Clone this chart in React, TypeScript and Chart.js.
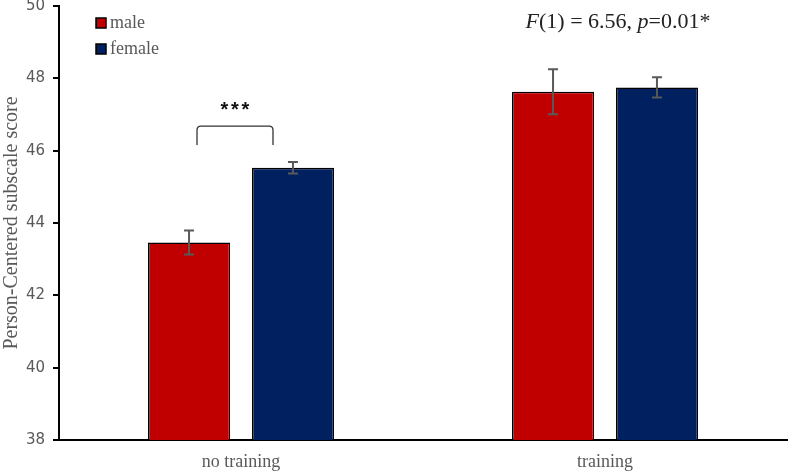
import React, { useEffect, useRef } from "react";
import { Chart, registerables } from "chart.js";

Chart.register(...registerables);

const categories = ["no training", "training"];
const seriesNames = ["male", "female"];
const maleValues = [43.46, 47.63];
const femaleValues = [45.53, 47.75];
const maleErrors = [0.33, 0.62];
const femaleErrors = [0.16, 0.28];
const yTicks = [38, 40, 42, 44, 46, 48, 50];
const yTitle = "Person-Centered subscale score";
const sigStars = "***";
const bracketTop = 46.68;
const bracketBottom = 46.16;
const starsValue = 47.22;
const statValue = 49.56;

const COLORS = ["#C00000", "#002060"];
const GRAY = "#595959";

const overlayPlugin = {
  id: "overlay",
  afterDatasetsDraw(chart: any) {
    const ctx = chart.ctx;
    const x = chart.scales.x;
    const y = chart.scales.y;
    ctx.save();
    // error bars
    const errs = [maleErrors, femaleErrors];
    const vals = [maleValues, femaleValues];
    for (let d = 0; d < 2; d++) {
      const meta = chart.getDatasetMeta(d);
      meta.data.forEach((bar: any, i: number) => {
        const cx = bar.x;
        const top = y.getPixelForValue(vals[d][i] + errs[d][i]);
        const bot = y.getPixelForValue(vals[d][i] - errs[d][i]);
        ctx.strokeStyle = GRAY;
        ctx.lineWidth = 2;
        ctx.beginPath();
        ctx.moveTo(cx, top);
        ctx.lineTo(cx, bot);
        ctx.moveTo(cx - 5, top);
        ctx.lineTo(cx + 5, top);
        ctx.moveTo(cx - 5, bot);
        ctx.lineTo(cx + 5, bot);
        ctx.stroke();
      });
    }
    // bracket
    const c0 = x.getPixelForValue(0);
    const bl = c0 - 44;
    const br = c0 + 32;
    const bt = y.getPixelForValue(bracketTop);
    const bb = y.getPixelForValue(bracketBottom);
    ctx.strokeStyle = "#333";
    ctx.lineWidth = 1.3;
    ctx.beginPath();
    ctx.moveTo(bl, bb);
    ctx.lineTo(bl, bt + 4);
    ctx.quadraticCurveTo(bl, bt, bl + 4, bt);
    ctx.lineTo(br - 4, bt);
    ctx.quadraticCurveTo(br, bt, br, bt + 4);
    ctx.lineTo(br, bb);
    ctx.stroke();
    // stars
    const sy = y.getPixelForValue(starsValue);
    ctx.fillStyle = "#111";
    ctx.font = "bold 20px 'Liberation Sans'";
    ctx.textAlign = "center";
    ctx.textBaseline = "middle";
    const chars = sigStars.split("");
    chars.forEach((ch, k) => {
      ctx.fillText(ch, c0 - 6 + (k - (chars.length - 1) / 2) * 10.5, sy + 4);
    });
    // stat annotation
    const c1 = x.getPixelForValue(1);
    const parts: [string, boolean][] = [
      ["F", true],
      ["(1) = 6.56, ", false],
      ["p", true],
      ["=0.01*", false],
    ];
    const fontFor = (it: boolean) => (it ? "italic 22px 'Liberation Serif'" : "22px 'Liberation Serif'");
    let total = 0;
    parts.forEach(([t, it]) => {
      ctx.font = fontFor(it);
      total += ctx.measureText(t).width;
    });
    let px = c1 + 13 - total / 2;
    const ty = y.getPixelForValue(statValue);
    ctx.textAlign = "left";
    ctx.textBaseline = "middle";
    ctx.fillStyle = "#222";
    parts.forEach(([t, it]) => {
      ctx.font = fontFor(it);
      ctx.fillText(t, px, ty);
      px += ctx.measureText(t).width;
    });
    // legend
    seriesNames.forEach((name, k) => {
      const ly = 18 + k * 26;
      ctx.fillStyle = COLORS[k];
      ctx.fillRect(96, ly, 10, 10);
      ctx.strokeStyle = "#000";
      ctx.lineWidth = 1.5;
      ctx.strokeRect(96, ly, 10, 10);
      ctx.fillStyle = GRAY;
      ctx.font = "18px 'Liberation Serif'";
      ctx.textAlign = "left";
      ctx.textBaseline = "middle";
      ctx.fillText(name, 110, ly + 5);
    });
    ctx.restore();
  },
};

export default function App() {
  const ref = useRef<HTMLCanvasElement>(null);
  useEffect(() => {
    const chart = new Chart(ref.current!, {
      type: "bar",
      data: {
        labels: categories,
        datasets: [
          {
            label: seriesNames[0],
            data: maleValues,
            backgroundColor: COLORS[0],
            borderColor: "#000",
            borderWidth: 1.5,
            borderSkipped: "bottom",
            barPercentage: 0.79,
            categoryPercentage: 0.571,
          },
          {
            label: seriesNames[1],
            data: femaleValues,
            backgroundColor: COLORS[1],
            borderColor: "#000",
            borderWidth: 1.5,
            borderSkipped: "bottom",
            barPercentage: 0.79,
            categoryPercentage: 0.571,
          },
        ],
      },
      options: {
        animation: false,
        responsive: false,
        maintainAspectRatio: false,
        layout: { padding: { top: 6, right: 1, left: 0, bottom: 0 } },
        plugins: { legend: { display: false }, tooltip: { enabled: false } },
        scales: {
          x: {
            grid: { display: false, drawTicks: false },
            border: { display: true, color: "#000", width: 2 },
            ticks: {
              color: GRAY,
              font: { family: "'Liberation Serif'", size: 18 },
              padding: 11,
            },
            afterFit: (s: any) => {
              s.height = 31;
              s.paddingLeft = 0;
              s.paddingRight = 0;
            },
          },
          y: {
            min: 38,
            max: 50,
            afterBuildTicks: (s: any) => {
              s.ticks = yTicks.map((v) => ({ value: v }));
            },
            grid: { drawOnChartArea: false, drawTicks: true, tickLength: 6, color: "#000", lineWidth: 2 },
            border: { display: true, color: "#000", width: 2 },
            ticks: {
              color: GRAY,
              font: { family: "'DejaVu Sans'", size: 15 },
              padding: 8,
            },
            title: {
              display: true,
              text: yTitle,
              color: GRAY,
              font: { family: "'Liberation Serif'", size: 20 },
              padding: { top: 0, bottom: 0 },
            },
            afterFit: (s: any) => {
              s.width = 59;
              s.paddingTop = 0;
              s.paddingBottom = 0;
            },
          },
        },
      },
      plugins: [overlayPlugin],
    });
    return () => chart.destroy();
  }, []);
  return (
    <div style={{ position: "fixed", left: 0, top: 0, width: 788, height: 471, background: "#fff" }}>
      <canvas ref={ref} width={788} height={471} style={{ width: 788, height: 471 }} />
    </div>
  );
}
